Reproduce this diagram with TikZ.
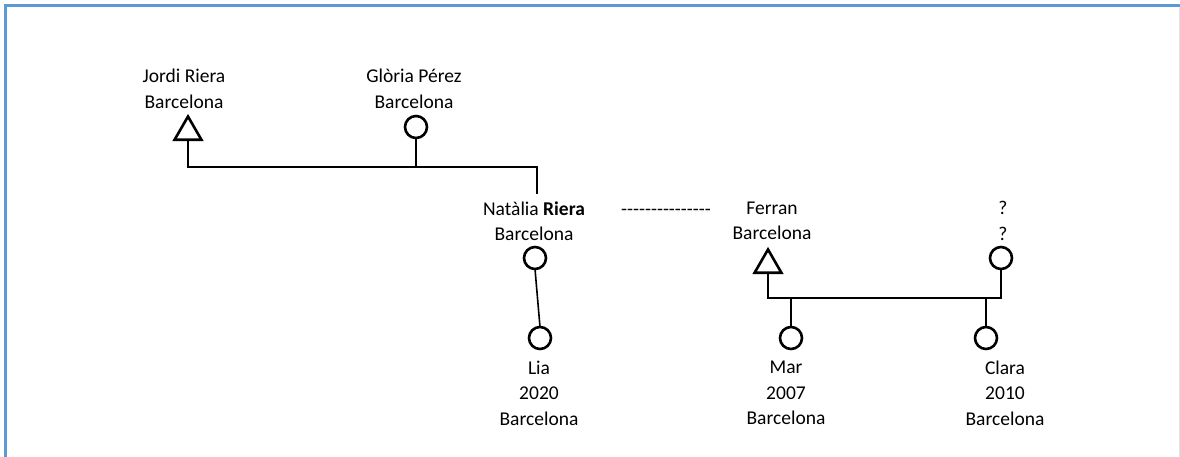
\documentclass[tikz,border=0pt]{standalone}
\usepackage{fontspec}
\setmainfont{Carlito}
\usetikzlibrary{shapes.geometric}
\definecolor{framecol}{RGB}{91,155,213}
\definecolor{faintcol}{RGB}{220,228,238}
\begin{document}
\begin{tikzpicture}[x=1pt,y=-1pt,
  lbl/.style={align=center, font=\fontsize{19.5}{25.5}\selectfont, inner sep=0pt},
  male/.style={regular polygon, regular polygon sides=3, draw, line width=2.6pt, minimum size=31pt, inner sep=0pt, outer sep=0pt},
  female/.style={circle, draw, line width=2.6pt, minimum size=22pt, inner sep=0pt, outer sep=0pt},
  link/.style={line width=1.6pt}]
\useasboundingbox (0,0) rectangle (1180,457);
% frame
\draw[line width=3.5pt, framecol] (5.5,457) -- (5.5,5.5) -- (1180,5.5);
\draw[line width=1pt, faintcol] (1179.5,7) -- (1179.5,457);

% generation 1
\node[lbl] (jt) at (184,89) {Jordi Riera\\Barcelona};
\node[male] (jordi) at (188,132) {};
\node[lbl] (gt) at (414,89) {Glòria Pérez\\Barcelona};
\node[female] (gloria) at (416,127) {};
\coordinate (j1) at (537,167);
\coordinate (n1) at (537,194);
\draw[link] (jordi.south) |- (j1) -- (n1);
\draw[link] (gloria.south) -- (gloria.south |- j1);

% generation 2
\node[lbl] (nt) at (534,221) {Natàlia \textbf{Riera}\\Barcelona};
\node[lbl] (dash) at (666,208.5) {\vphantom{Natàlia}-{}-{}-{}-{}-{}-{}-{}-{}-{}-{}-{}-{}-{}-{}-{}};
\node[lbl] (ft) at (772,221) {Ferran\\Barcelona};
\node[lbl] (qt) at (1003,221) {?\\?};
\node[female] (natalia) at (535,258) {};
\node[male] (ferran) at (768,265) {};
\node[female] (qq) at (1001,258) {};
\coordinate (b1) at (768,298);
\coordinate (b2) at (1001,298);
\draw[link] (ferran.south) -- (b1) -- (b2) -- (qq.south);

% generation 3
\node[female] (lia) at (540,338) {};
\node[female] (mar) at (791,338) {};
\node[female] (clara) at (986,338) {};
\draw[link] (natalia.south) -- (lia.north);
\draw[link] (mar.north) -- (mar.north |- b1);
\draw[link] (clara.north) -- (clara.north |- b1);
\node[lbl] (lt) at (539,393) {Lia\\2020\\Barcelona};
\node[lbl] (mt) at (786,393) {Mar\\2007\\Barcelona};
\node[lbl] (ct) at (1005,393) {Clara\\2010\\Barcelona};
\end{tikzpicture}
\end{document}
